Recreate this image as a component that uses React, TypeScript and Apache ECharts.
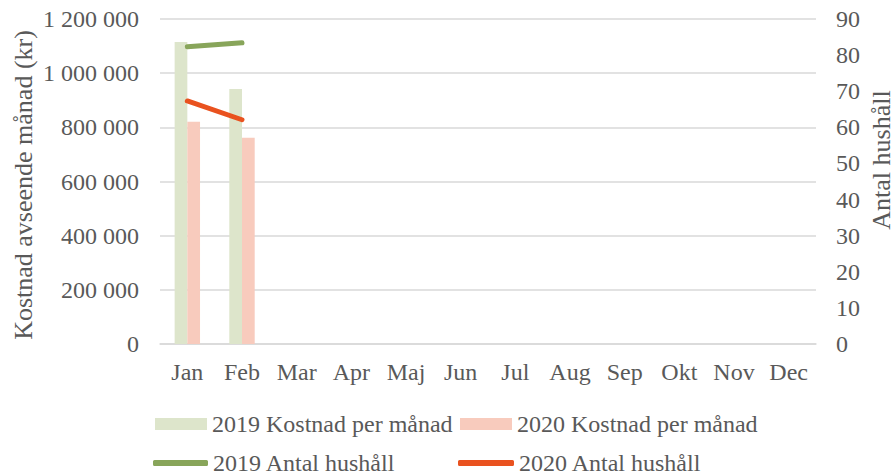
import React, { useEffect, useRef } from "react";
import * as echarts from "echarts";

const months = ["Jan", "Feb", "Mar", "Apr", "Maj", "Jun", "Jul", "Aug", "Sep", "Okt", "Nov", "Dec"];
const cost2019 = [1115000, 942000, null, null, null, null, null, null, null, null, null, null];
const cost2020 = [821000, 762000, null, null, null, null, null, null, null, null, null, null];
const hh2019 = [82.3, 83.4, null, null, null, null, null, null, null, null, null, null];
const hh2020 = [67.3, 62.1, null, null, null, null, null, null, null, null, null, null];

const FONT = "'Liberation Serif', 'Times New Roman', serif";
const TXT = "#595959";
const FS = 24;

const fmt = (v: number) => String(v).replace(/\B(?=(\d{3})+(?!\d))/g, " ");

export default function App() {
  const ref = useRef<HTMLDivElement>(null);
  useEffect(() => {
    if (!ref.current) return;
    const chart = echarts.init(ref.current, undefined, { renderer: "svg" });
    const legendText = { fontFamily: FONT, fontSize: FS, color: TXT, lineHeight: 24 };
    const lg = { padding: 0, itemGap: 8, textStyle: legendText };
    chart.setOption({
      animation: false,
      textStyle: { fontFamily: FONT },
      grid: { left: 160, right: 79, top: 19, bottom: 132 },
      legend: [
        { ...lg, data: [{ name: "2019 Kostnad per månad", icon: "rect" }], left: 155, top: 412, itemWidth: 52, itemHeight: 12 },
        { ...lg, data: [{ name: "2020 Kostnad per månad", icon: "rect" }], left: 460, top: 412, itemWidth: 52, itemHeight: 12 },
        { ...lg, data: [{ name: "2019 Antal hushåll", icon: "roundRect" }], left: 153, top: 451, itemWidth: 55, itemHeight: 6 },
        { ...lg, data: [{ name: "2020 Antal hushåll", icon: "roundRect" }], left: 458, top: 451, itemWidth: 56, itemHeight: 6 },
      ],
      xAxis: {
        type: "category",
        data: months,
        axisLine: { lineStyle: { color: "#d9d9d9", width: 1.5 } },
        axisTick: { show: false },
        axisLabel: { fontFamily: FONT, fontSize: FS, color: TXT, margin: 16 },
      },
      yAxis: [
        {
          type: "value",
          min: 0,
          max: 1200000,
          interval: 200000,
          axisLine: { show: false },
          axisTick: { show: false },
          splitLine: { lineStyle: { color: "#d9d9d9", width: 1.5 } },
          axisLabel: { fontFamily: FONT, fontSize: FS, color: TXT, margin: 21, formatter: fmt },
        },
        {
          type: "value",
          min: 0,
          max: 90,
          interval: 10,
          position: "right",
          axisLine: { show: false },
          axisTick: { show: false },
          splitLine: { show: false },
          axisLabel: { fontFamily: FONT, fontSize: FS, color: TXT, margin: 20 },
        },
      ],
      graphic: [
        {
          type: "text",
          x: 23,
          y: 185,
          rotation: Math.PI / 2,
          style: { text: "Kostnad avseende månad (kr)", fontFamily: FONT, fontSize: 26, fill: TXT, align: "center", verticalAlign: "middle" },
        },
        {
          type: "text",
          x: 881,
          y: 160,
          rotation: Math.PI / 2,
          style: { text: "Antal hushåll", fontFamily: FONT, fontSize: 26, fill: TXT, align: "center", verticalAlign: "middle" },
        },
      ],
      series: [
        { name: "2019 Kostnad per månad", type: "bar", data: cost2019, barWidth: 12.7, barGap: "0%", itemStyle: { color: "#dde5cb" } },
        { name: "2020 Kostnad per månad", type: "bar", data: cost2020, barWidth: 12.7, barGap: "0%", itemStyle: { color: "#f8cbbd" } },
        {
          name: "2019 Antal hushåll",
          type: "line",
          yAxisIndex: 1,
          data: hh2019,
          symbol: "none",
          lineStyle: { color: "#88a55a", width: 5, cap: "round" },
          itemStyle: { color: "#88a55a" },
        },
        {
          name: "2020 Antal hushåll",
          type: "line",
          yAxisIndex: 1,
          data: hh2020,
          symbol: "none",
          lineStyle: { color: "#e9521f", width: 5, cap: "round" },
          itemStyle: { color: "#e9521f" },
        },
      ],
    });
    return () => chart.dispose();
  }, []);
  return <div ref={ref} style={{ width: 895, height: 476, position: "absolute", left: 0, top: 0 }} />;
}
